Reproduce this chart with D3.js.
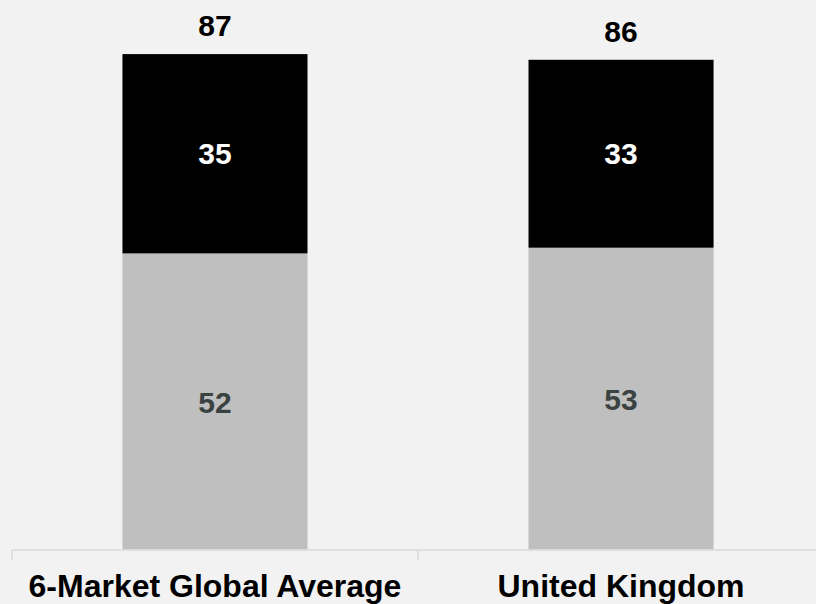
<!DOCTYPE html>
<html><head><meta charset="utf-8">
<script src="https://cdn.jsdelivr.net/npm/d3@7"></script>
<style>body{margin:0;background:#f2f2f2;}svg{display:block;font-family:"Liberation Sans",Arial,sans-serif;}</style>
</head><body>
<script>
const categories = ["6-Market Global Average", "United Kingdom"];
const lowerValues = [52, 53];
const upperValues = [35, 33];
const totals = [87, 86];

const W = 816, H = 604;
const svg = d3.select("body").append("svg").attr("width", W).attr("height", H);
svg.append("rect").attr("width", W).attr("height", H).attr("fill", "#f2f2f2");

const x = d3.scaleBand().domain(categories).range([12, 824]).paddingInner(0.5443).paddingOuter(0.272);
const y = d3.scaleLinear().domain([0, 96.5]).range([549.5, 0]);

const data = categories.map((c, i) => ({c, lo: lowerValues[i], up: upperValues[i], tot: totals[i]}));

svg.selectAll(".lo").data(data).enter().append("rect")
  .attr("x", d => x(d.c)).attr("width", x.bandwidth())
  .attr("y", d => y(d.lo)).attr("height", d => y(0) - y(d.lo))
  .attr("fill", "#bfbfbf");
svg.selectAll(".up").data(data).enter().append("rect")
  .attr("x", d => x(d.c)).attr("width", x.bandwidth())
  .attr("y", d => y(d.lo + d.up)).attr("height", d => y(d.lo) - y(d.lo + d.up))
  .attr("fill", "#000000");

const axisG = svg.append("g");
axisG.append("line").attr("x1", 12).attr("x2", W).attr("y1", 550).attr("y2", 550)
  .attr("stroke", "#d9d9d9").attr("stroke-width", 1.5);
const step = x.step();
const bounds = [12, 12 + step];
axisG.selectAll(".tk").data(bounds).enter().append("line")
  .attr("x1", d => d).attr("x2", d => d).attr("y1", 550).attr("y2", 560)
  .attr("stroke", "#d9d9d9").attr("stroke-width", 1.5);

const cx = d => x(d.c) + x.bandwidth() / 2;
svg.selectAll(".ll").data(data).enter().append("text")
  .attr("x", cx).attr("y", d => (y(0) + y(d.lo)) / 2 + 1).attr("dy", "0.35em")
  .attr("text-anchor", "middle").attr("font-size", 30).attr("font-weight", "bold")
  .attr("fill", "#3b4242").text(d => d.lo);
svg.selectAll(".ul").data(data).enter().append("text")
  .attr("x", cx).attr("y", d => (y(d.lo) + y(d.lo + d.up)) / 2).attr("dy", "0.35em")
  .attr("text-anchor", "middle").attr("font-size", 30).attr("font-weight", "bold")
  .attr("fill", "#ffffff").text(d => d.up);
svg.selectAll(".tl").data(data).enter().append("text")
  .attr("x", cx).attr("y", d => y(d.tot) - 18)
  .attr("text-anchor", "middle").attr("font-size", 30).attr("font-weight", "bold")
  .attr("fill", "#000000").text(d => d.tot);
svg.selectAll(".cl").data(data).enter().append("text")
  .attr("x", cx).attr("y", 597)
  .attr("text-anchor", "middle").attr("font-size", 32).attr("font-weight", "bold")
  .attr("fill", "#000000").text(d => d.c);
</script>
</body></html>
